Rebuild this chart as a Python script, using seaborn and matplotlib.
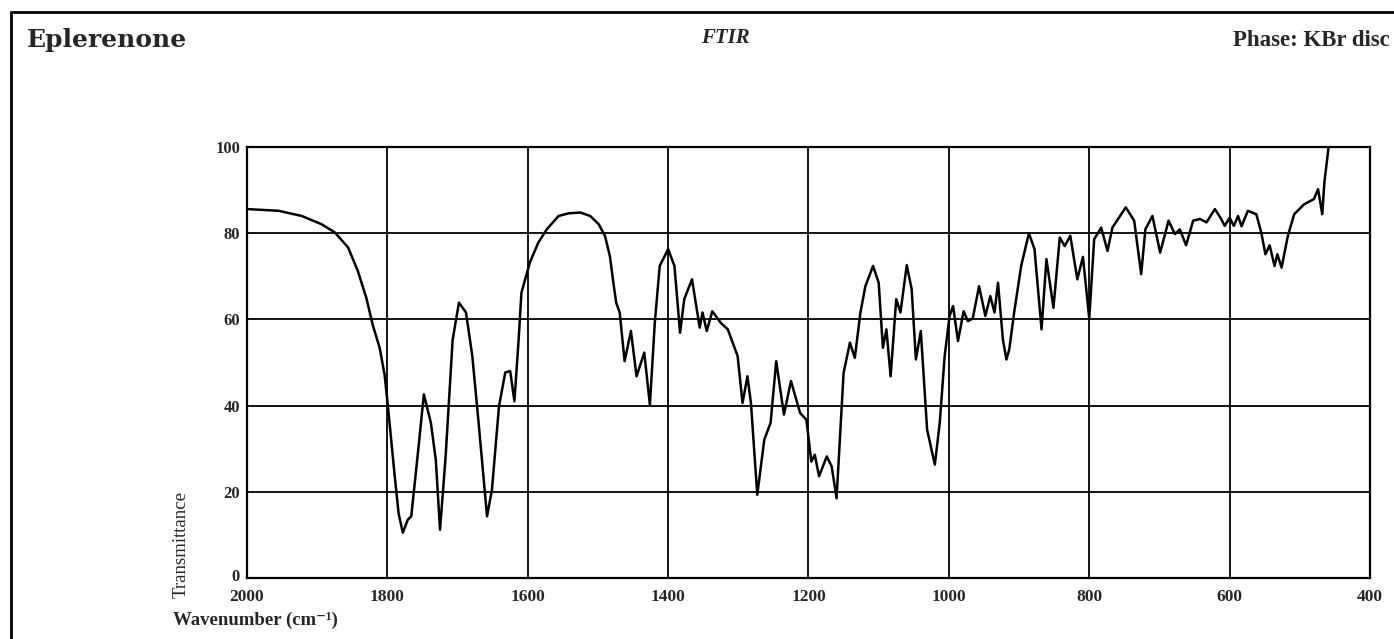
import matplotlib
matplotlib.use("Agg")
import matplotlib.pyplot as plt
from matplotlib.lines import Line2D
import seaborn as sns
import pandas as pd

# ---- data ----
wavenumber = [2000, 1955, 1922, 1894, 1875, 1856, 1842, 1830, 1821, 1811, 1804, 1799,
              1790, 1784,
              1778, 1771, 1766, 1757, 1748, 1738, 1731, 1725, 1717, 1707, 1698, 1688,
              1679, 1670, 1658, 1651, 1641, 1632, 1625, 1619, 1613, 1609, 1597, 1585,
              1573, 1556, 1542, 1525, 1511, 1499, 1490, 1483, 1478, 1474, 1469, 1462,
              1453, 1445, 1434,
              1426, 1419, 1412, 1400, 1391, 1383, 1377, 1366, 1355, 1351, 1345, 1337,
              1325, 1315, 1301, 1294, 1287, 1282, 1273, 1263, 1254, 1246, 1235, 1225,
              1212, 1203, 1196, 1191, 1185, 1174, 1167, 1160, 1150, 1141, 1134, 1126,
              1119, 1108, 1100, 1094, 1089, 1083, 1075, 1069, 1060, 1053, 1047, 1040,
              1031, 1020, 1013, 1006, 999, 994, 987, 979, 973, 966, 957, 948, 941, 935,
              930, 923, 918, 914, 907, 897, 886, 878, 868, 861, 851, 842, 835, 827,
              817, 809, 800, 793, 783, 774, 767, 748, 736, 726, 720, 710, 699, 687,
              678, 671, 662, 652, 642, 633, 621, 612, 607, 600, 594, 588, 583, 574,
              562, 555, 549, 543, 536, 532, 526, 517, 508, 494, 480, 474, 468, 465, 459]
transmittance = [85.6, 85.2, 84.0, 82.1, 80.2, 76.7, 71.2, 65.0, 58.8, 53.4, 47.2, 39.5,
                 24.4, 15.0,
                 10.5, 13.5, 14.3, 28.2, 42.6, 36.0, 27.4, 11.2, 28.2, 55.3, 63.9, 61.6,
                 51.5, 36.0, 14.3, 20.5, 39.8, 47.7, 48.0, 41.0, 55.3, 66.2, 73.2, 77.8,
                 80.9, 84.0, 84.6, 84.8, 84.0, 82.1, 79.4, 74.7, 68.5, 63.9, 61.6, 50.3,
                 57.3, 46.8, 52.3,
                 40.2, 59.2, 72.4, 76.3, 72.4, 56.9, 64.7, 69.3, 58.1, 61.6, 57.3, 61.9,
                 59.2, 57.7, 51.5, 40.6, 46.8, 40.6, 19.3, 32.1, 36.0, 50.3, 37.9, 45.7,
                 38.3, 36.7, 27.0, 28.6, 23.6, 28.2, 25.9, 18.5, 47.6, 54.6, 51.1, 61.6,
                 67.7, 72.4, 68.5, 53.4, 57.7, 46.8, 64.7, 61.6, 72.6, 67.0, 50.7, 57.3,
                 34.4, 26.3, 36.0, 51.5, 60.8, 63.1, 55.0, 61.9, 59.6, 60.2, 67.7, 60.8,
                 65.4, 61.6, 68.5, 55.3, 50.7, 53.0, 61.6, 72.4, 80.0, 76.3, 57.7, 74.0,
                 62.7, 79.0, 77.0, 79.4, 69.3, 74.5, 60.2, 78.6, 81.3, 75.9, 81.3, 86.0,
                 82.9, 70.5, 80.9, 84.0, 75.5, 82.9, 79.8, 80.9, 77.2, 82.9, 83.3, 82.5,
                 85.6, 83.3, 81.7, 83.6, 81.7, 84.0, 81.6, 85.2, 84.4, 80.2, 75.1, 77.2,
                 72.4, 75.1, 72.0, 79.4, 84.4, 86.7, 87.9, 90.2, 84.4, 91.8, 100.0]

x_ticks = [2000, 1800, 1600, 1400, 1200, 1000, 800, 600, 400]
y_ticks = [0, 20, 40, 60, 80, 100]

title_left = "Eplerenone"
title_center = "FTIR"
title_right = "Phase: KBr disc"
x_label = "Wavenumber (cm\u207b\u00b9)"
y_label = "Transmittance"

df = pd.DataFrame({"wn": wavenumber, "T": transmittance})

sns.set_style("white")
plt.rcParams["font.family"] = ["Liberation Serif", "DejaVu Serif"]

W, H = 1394, 639
fig = plt.figure(figsize=(W / 100, H / 100), dpi=100)
ax = fig.add_axes([247 / W, 1 - 578 / H, (1370 - 247) / W, (578 - 147) / H])

sns.lineplot(data=df, x="wn", y="T", ax=ax, color="black", linewidth=1.8, sort=False)

ax.set_xlim(2000, 400)
ax.set_ylim(0, 100)
ax.set_xticks(x_ticks)
ax.set_yticks(y_ticks)
ax.set_xticklabels([str(v) for v in x_ticks], fontsize=12.5, fontweight="bold")
ax.set_yticklabels([str(v) for v in y_ticks], fontsize=12, fontweight="bold")
ax.tick_params(axis="x", length=5, width=1.5, direction="out", pad=3, color="black")
ax.tick_params(axis="y", length=3, width=1.2, direction="out", pad=2, color="black")
# lift the "0" label a little so it clears the "2000" label below it
import matplotlib.transforms as mtransforms
ylabs = ax.get_yticklabels()
ylabs[0].set_transform(ylabs[0].get_transform() +
                       mtransforms.ScaledTranslation(0, 3 / 100, fig.dpi_scale_trans))
ax.grid(True, color="black", linewidth=1.3)
for s in ax.spines.values():
    s.set_visible(True)
    s.set_color("black")
    s.set_linewidth(1.6)
ax.set_xlabel("")
ax.set_ylabel("")

# outer frame (cut by the image edge on the right and bottom)
fig.add_artist(Line2D([11 / W, 1.0], [1 - 12 / H, 1 - 12 / H], color="black", linewidth=2,
                      transform=fig.transFigure))
fig.add_artist(Line2D([11 / W, 11 / W], [0.0, 1 - 12 / H], color="black", linewidth=2,
                      transform=fig.transFigure))

fig.text(27 / W, 1 - 40 / H, title_left, fontsize=18, fontweight="bold",
         family=["DejaVu Serif"], ha="left", va="center")
fig.text(725 / W, 1 - 38 / H, title_center, fontsize=15, fontweight="bold", style="italic",
         ha="center", va="center")
fig.text(1233 / W, 1 - 40 / H, title_right, fontsize=16.5, fontweight="bold",
         ha="left", va="center")
fig.text(181 / W, 1 - 545 / H, y_label, fontsize=13.5, rotation=90, ha="center", va="center")
fig.text(173 / W, 1 - 620 / H, x_label, fontsize=13.5, fontweight="bold", ha="left", va="center")

fig.savefig("out.png", dpi=100, facecolor="white")
